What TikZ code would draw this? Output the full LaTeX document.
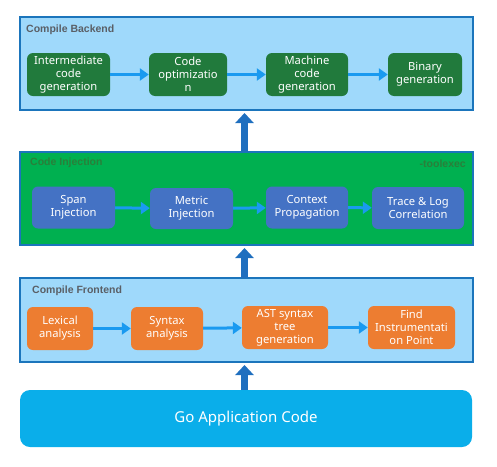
\documentclass[tikz,border=0pt]{standalone}
\usepackage{fontspec}
\setmainfont{Noto Sans}
\newfontfamily\titlefont{Liberation Sans}
\usetikzlibrary{arrows.meta,positioning}
\definecolor{bkfill}{HTML}{9FD9FB}
\definecolor{frame}{HTML}{1B75BC}
\definecolor{dgreen}{HTML}{217A3C}
\definecolor{injfill}{HTML}{00B050}
\definecolor{injtext}{HTML}{2A7F3A}
\definecolor{bnode}{HTML}{4472C4}
\definecolor{onode}{HTML}{ED7D31}
\definecolor{gofill}{HTML}{0AAEEA}
\definecolor{ttl}{HTML}{5A5F66}
\definecolor{sarrow}{HTML}{1A9AF0}
\definecolor{barrow}{HTML}{1F6FBF}
\begin{document}
\begin{tikzpicture}[x=1pt,y=-1pt,
  container/.style={draw=frame,line width=2.2pt,inner sep=0pt},
  stepnode/.style={rounded corners=6pt,inner sep=1pt,text=white,align=center,
    font=\fontsize{11.2}{13}\selectfont},
  gnode/.style={stepnode,fill=dgreen},
  bnodes/.style={stepnode,fill=bnode},
  onodes/.style={stepnode,fill=onode},
  ttlnode/.style={font=\titlefont\bfseries\fontsize{10.5}{12}\selectfont,text=ttl,inner sep=0pt},
  sarr/.style={draw=sarrow,line width=3pt,-{Triangle[length=9pt,width=12pt]}},
  barr/.style={draw=barrow,line width=7pt,-{Triangle[length=10pt,width=18pt]},shorten >=3pt}
]
\useasboundingbox (0,0) rectangle (497,466);
% containers
\draw[container,fill=bkfill] (20,17) rectangle (473,110);
\draw[container,fill=injfill] (20,152) rectangle (473,245);
\draw[container,fill=bkfill] (20,278) rectangle (473,362);
\coordinate (bkbot) at (244.5,110);
\coordinate (injtop) at (244.5,152);
\coordinate (injbot) at (244.5,245);
\coordinate (frtop) at (244.5,278);
\coordinate (frbot) at (244.5,362);
\node[fill=gofill,rounded corners=10pt,minimum width=452pt,minimum height=57pt,inner sep=0pt,
  text=white,font=\fontsize{15}{18}\selectfont] (go) at (246,418.5) {Go Application Code};
\coordinate (gotop) at (244.5,390);
% titles
\node[ttlnode,anchor=west] (tb) at (26,30) {Compile Backend};
\node[ttlnode,anchor=west,text=injtext] (ti) at (30,163) {Code Injection};
\node[ttlnode,anchor=east,text=injtext] (tt) at (466,164) {-toolexec};
\node[ttlnode,anchor=west] (tf) at (32,291) {Compile Frontend};
% backend
\node[gnode,minimum width=83pt,minimum height=43pt] (n1) at (68.5,74.5) {Intermediate\\code\\generation};
\node[gnode,minimum width=78pt,minimum height=43pt] (n2) at (188,74.5) {Code\\optimizatio\\n};
\node[gnode,minimum width=82pt,minimum height=43pt] (n3) at (307,74.5) {Machine\\code\\generation};
\node[gnode,minimum width=74pt,minimum height=43pt] (n4) at (425,74.5) {Binary\\generation};
% injection
\node[bnodes,minimum width=83pt,minimum height=42pt] (i1) at (73.5,207.5) {Span\\Injection};
\node[bnodes,minimum width=83pt,minimum height=41pt] (i2) at (191.5,208.5) {Metric\\Injection};
\node[bnodes,minimum width=82pt,minimum height=42pt] (i3) at (307,207.5) {Context\\Propagation};
\node[bnodes,minimum width=92pt,minimum height=42pt] (i4) at (418,208) {Trace \& Log\\Correlation};
% frontend
\node[onodes,minimum width=66pt,minimum height=43pt] (f1) at (60,328.5) {Lexical\\analysis};
\node[onodes,minimum width=72pt,minimum height=43pt] (f2) at (167,328.5) {Syntax\\analysis};
\node[onodes,minimum width=86pt,minimum height=43pt] (f3) at (285,327.5) {AST syntax\\tree\\generation};
\node[onodes,minimum width=87pt,minimum height=43pt] (f4) at (411.5,327.5) {Find\\Instrumentati\\on Point};
% small arrows
\draw[sarr] (n1) -- (n2);
\draw[sarr] (n2) -- (n3);
\draw[sarr] (n3) -- (n4);
\draw[sarr] (i1) -- (i2);
\draw[sarr] (i2) -- (i3);
\draw[sarr] (i3) -- (i4);
\draw[sarr] (f1) -- (f2);
\draw[sarr] (f2) -- (f3);
\draw[sarr] (f3) -- (f4);
% big arrows
\draw[barr] (gotop) -- (frbot);
\draw[barr] (frtop) -- (injbot);
\draw[barr] (injtop) -- (bkbot);
\end{tikzpicture}
\end{document}
